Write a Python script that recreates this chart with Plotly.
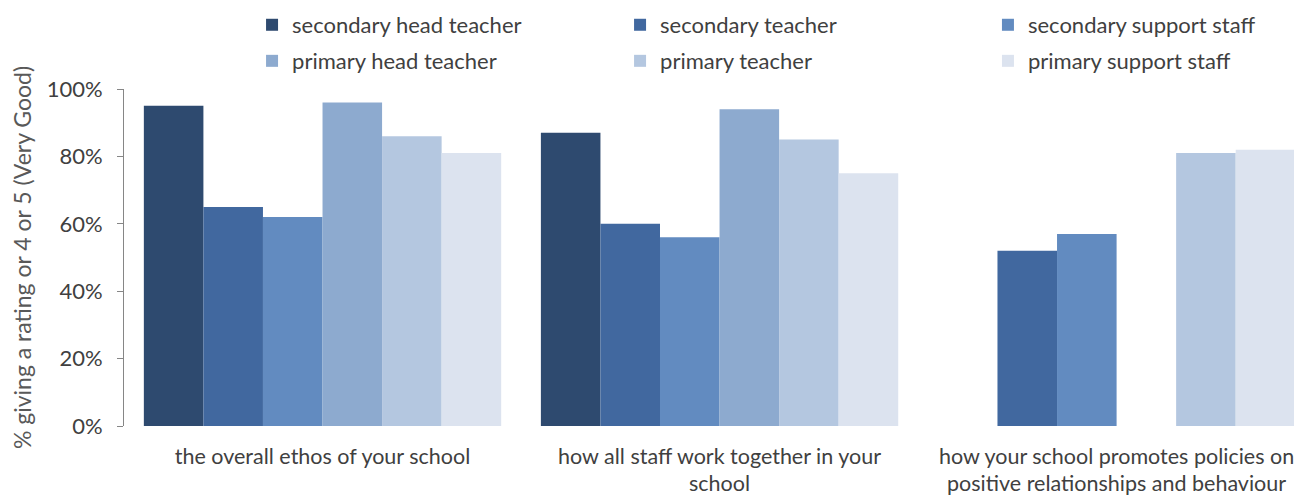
import plotly.graph_objects as go

categories = [
    "the overall ethos of your school",
    "how all staff work together in your<br>school",
    "how your school promotes policies on<br>positive relationships and behaviour",
]
series_names = [
    "secondary head teacher",
    "secondary teacher",
    "secondary support staff",
    "primary head teacher",
    "primary teacher",
    "primary support staff",
]
secondary_head_teacher = [95, 87, None]
secondary_teacher = [65, 60, 52]
secondary_support_staff = [62, 56, 57]
primary_head_teacher = [96, 94, None]
primary_teacher = [86, 85, 81]
primary_support_staff = [81, 75, 82]
y_ticks = [0, 20, 40, 60, 80, 100]
y_tick_labels = ["0%", "20%", "40%", "60%", "80%", "100%"]

series_values = [
    secondary_head_teacher,
    secondary_teacher,
    secondary_support_staff,
    primary_head_teacher,
    primary_teacher,
    primary_support_staff,
]
colors = ["#2E4A6F", "#41689F", "#628BC0", "#8DAACF", "#B4C7E0", "#DCE3EF"]

FONT = "Lato"
TEXT = "#404040"

# page has an 8px body margin; figure is sized so the visible window matches
W, H = 1294, 487
L, R, T, B = 116, 0, 81, 69

legend_ids = ["legend", "legend2", "legend3", "legend4", "legend5", "legend6"]
legend_x = [0.1087, 0.4211, 0.7334, 0.1087, 0.4211, 0.7334]
legend_y = [1.190, 1.190, 1.190, 1.083, 1.083, 1.083]

fig = go.Figure()
for name, vals, col, lg in zip(series_names, series_values, colors, legend_ids):
    fig.add_trace(go.Bar(
        x=categories, y=vals, name=name, legend=lg, showlegend=True,
        marker=dict(color=col, line=dict(width=0)),
    ))

legends = {}
for lg, lx, ly in zip(legend_ids, legend_x, legend_y):
    legends[lg] = dict(
        visible=True,
        orientation="h", x=lx, y=ly, xanchor="left", yanchor="middle",
        font=dict(family=FONT, size=22, color=TEXT),
        bgcolor="rgba(0,0,0,0)", borderwidth=0,
    )

fig.update_layout(
    width=W, height=H, autosize=False, showlegend=True,
    margin=dict(l=L, r=R, t=T, b=B, pad=0, autoexpand=False),
    paper_bgcolor="white", plot_bgcolor="white",
    barmode="group", bargap=0.10, bargroupgap=0,
    font=dict(family=FONT, size=22, color=TEXT),
    xaxis=dict(
        range=[-0.5, 2.467], showline=False, showgrid=False, zeroline=False,
        ticks="", tickfont=dict(family=FONT, size=21.5, color=TEXT),
        ticklabelstandoff=15, automargin=False,
    ),
    yaxis=dict(
        range=[0, 100], tickmode="array", tickvals=y_ticks, ticktext=y_tick_labels,
        showline=True, linecolor="#868686", linewidth=1,
        ticks="outside", ticklen=6, tickcolor="#868686",
        showgrid=False, zeroline=False,
        tickfont=dict(family=FONT, size=22, color=TEXT),
        ticklabelstandoff=10,
        title=dict(text="% giving a rating or 4 or 5 (Very Good)",
                   font=dict(family=FONT, size=23, color="#595959"), standoff=21),
        automargin=False,
    ),
    **legends,
)

fig.write_html("out.html")
